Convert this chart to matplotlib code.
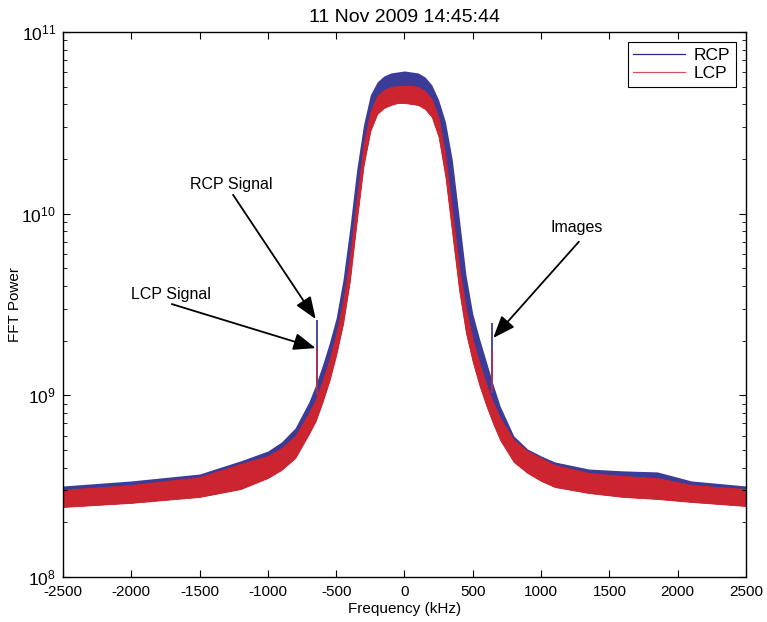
import matplotlib
matplotlib.use('Agg')
import matplotlib.pyplot as plt
from matplotlib.lines import Line2D
import numpy as np

plt.rcParams['font.family'] = ['Liberation Sans', 'DejaVu Sans']
plt.rcParams['mathtext.fontset'] = 'custom'
plt.rcParams['mathtext.rm'] = 'Liberation Sans'
plt.rcParams['mathtext.it'] = 'Liberation Sans'
plt.rcParams['axes.unicode_minus'] = False

# frequency grid (kHz) and band envelopes
freq = [-2500, -2000, -1500, -1200, -1000, -900, -800, -700, -650, -600, -550,
        -500, -450, -400, -350, -300, -250, -200, -150, -100, -50, 0,
        50, 100, 150, 200, 250, 300, 350, 400, 450, 500, 550, 600, 650, 700,
        800, 900, 1000, 1100, 1350, 1600, 1850, 2100, 2500]

# RCP upper envelope
rcp_hi = [3.17e8, 3.38e8, 3.69e8, 4.36e8, 4.94e8, 5.54e8, 6.62e8, 9.20e8, 1.141e9, 1.47e9, 1.94e9,
          2.67e9, 4.32e9, 8.34e9, 1.74e10, 3.077e10, 4.501e10, 5.307e10, 5.727e10, 5.949e10, 6.025e10, 6.10e10,
          6.025e10, 5.949e10, 5.655e10, 5.109e10, 4.224e10, 3.196e10, 1.975e10, 9.59e9, 4.60e9, 2.81e9,
          2.04e9, 1.527e9, 1.141e9, 8.74e8, 5.98e8, 5.07e8, 4.64e8, 4.30e8, 3.93e8, 3.84e8, 3.79e8,
          3.38e8, 3.17e8]

# LCP upper / lower envelope
lcp_hi = [3.02e8, 3.21e8, 3.55e8, 4.19e8, 4.64e8, 5.13e8, 5.98e8, 8.00e8, 9.43e8, 1.20e9, 1.566e9,
          2.18e9, 3.27e9, 5.71e9, 1.19e10, 2.388e10, 3.628e10, 4.444e10, 4.795e10, 4.981e10, 5.045e10, 5.045e10,
          5.045e10, 4.981e10, 4.735e10, 4.278e10, 3.362e10, 2.078e10, 1.022e10, 5.09e9, 2.99e9, 2.02e9,
          1.489e9, 1.141e9, 9.08e8, 7.51e8, 5.68e8, 4.94e8, 4.52e8, 4.14e8, 3.74e8, 3.60e8, 3.51e8,
          3.21e8, 3.05e8]

lcp_lo = [2.43e8, 2.56e8, 2.76e8, 3.05e8, 3.51e8, 3.89e8, 4.52e8, 6.13e8, 7.23e8, 9.20e8, 1.20e9,
          1.67e9, 2.47e9, 4.26e9, 9.00e9, 1.83e10, 2.852e10, 3.537e10, 3.817e10, 3.965e10, 4.067e10, 4.067e10,
          4.016e10, 3.965e10, 3.769e10, 3.405e10, 2.643e10, 1.592e10, 7.73e9, 3.80e9, 2.21e9, 1.527e9,
          1.127e9, 8.74e8, 6.96e8, 5.68e8, 4.30e8, 3.74e8, 3.38e8, 3.13e8, 2.90e8, 2.76e8, 2.69e8,
          2.59e8, 2.46e8]

# narrow spikes: the signal (left) and its image (right)
spike_freq = [-643, 638]
spike_base = [1.0e9, 1.03e9]
spike_rcp = [2.60e9, 2.51e9]
spike_lcp = [1.85e9, 1.78e9]

blue = '#3b3b98'
red = '#cd2530'

fig = plt.figure(figsize=(7.67, 6.22), dpi=100)
ax = fig.add_axes([0.0821, 0.0723, 0.8905, 0.8763])

ax.fill_between(freq, lcp_lo, rcp_hi, color=blue, lw=0)
ax.fill_between(freq, lcp_lo, lcp_hi, facecolor=red, edgecolor=red, lw=0.6)
ax.vlines(spike_freq, spike_base, spike_rcp, color=blue, lw=1.3)
ax.vlines(spike_freq, spike_base, spike_lcp, color='#b03050', lw=1.3)

ax.set_yscale('log')
ax.set_xlim(-2500, 2500)
ax.set_ylim(1e8, 1e11)
ax.set_xticks(np.arange(-2500, 2501, 500))
ax.tick_params(which='both', direction='in', top=True, right=True)
ax.tick_params(axis='x', labelsize=11, pad=6)
ax.tick_params(axis='y', labelsize=12.5, pad=5)
ax.tick_params(which='major', length=5, width=0.8)
ax.tick_params(which='minor', length=3, width=0.6)
for s in ax.spines.values():
    s.set_linewidth(1.0)

ax.set_xlabel('Frequency (kHz)', fontsize=11, labelpad=2)
ax.set_ylabel('FFT Power', fontsize=11)
ax.yaxis.set_label_coords(-0.06, 0.5)
ax.set_title('11 Nov 2009 14:45:44', fontsize=14, pad=7)

arrow = dict(arrowstyle='-|>,head_length=0.9,head_width=0.35', color='black', lw=1.3,
             shrinkA=0, shrinkB=0, mutation_scale=15)
ax.annotate('', xy=(-650, 2.63e9), xytext=(-1255, 1.27e10), arrowprops=arrow)
ax.annotate('', xy=(-650, 1.82e9), xytext=(-1704, 3.18e9), arrowprops=arrow)
ax.annotate('', xy=(650, 2.07e9), xytext=(1277, 7.01e9), arrowprops=arrow)
ax.text(-1270, 1.44e10, 'RCP Signal', fontsize=11.5, ha='center', va='center')
ax.text(-1709, 3.57e9, 'LCP Signal', fontsize=11.5, ha='center', va='center')
ax.text(1263, 8.34e9, 'Images', fontsize=11.5, ha='center', va='center')

handles = [Line2D([], [], color='#2a2a8a', lw=0.9), Line2D([], [], color='#d45060', lw=0.9)]
leg = ax.legend(handles, ['RCP', 'LCP'], loc='upper right', fontsize=12.5, fancybox=False,
                edgecolor='black', framealpha=1, handlelength=3.0, borderaxespad=0.6,
                borderpad=0.3, labelspacing=0.2, handletextpad=0.5)
leg.get_frame().set_linewidth(0.8)

fig.savefig('out.png', dpi=100)
